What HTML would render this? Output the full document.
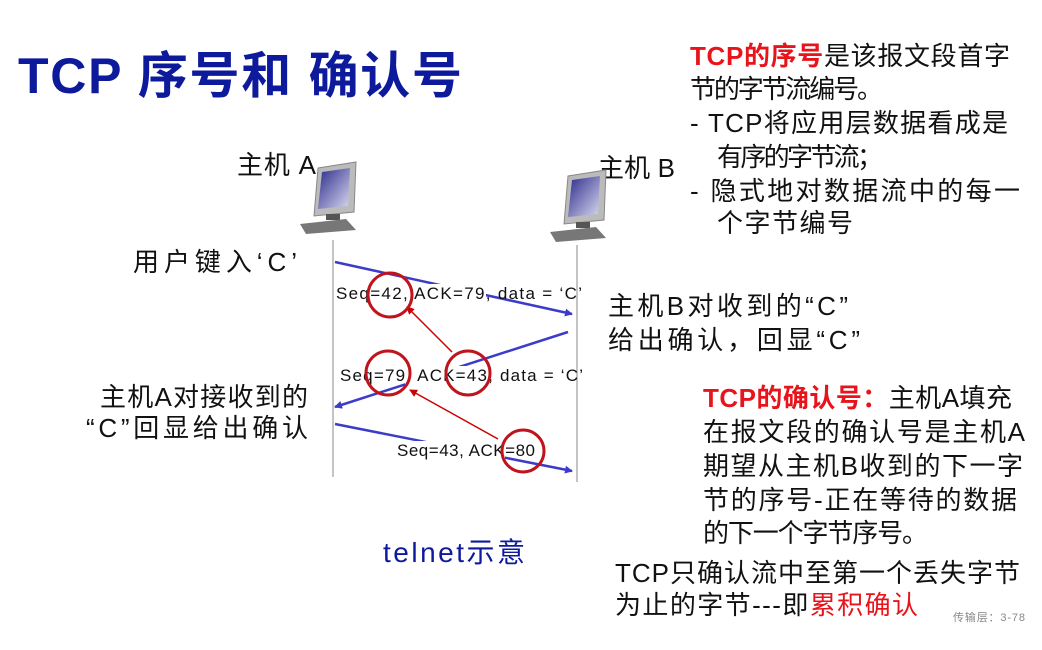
<!DOCTYPE html>
<html><head><meta charset="utf-8"><style>
body{margin:0;width:1042px;height:650px;background:#fff;position:relative;overflow:hidden}
svg text{font-family:"Liberation Sans","Noto Sans CJK SC",sans-serif;fill:#111}
.r{fill:#e8141c;font-weight:bold}
.rr{fill:#e8141c}
</style></head><body>
<svg width="1042" height="650" style="position:absolute;left:0;top:0">
<defs>
<marker id="b" markerWidth="8" markerHeight="8" refX="7" refY="4" orient="auto" markerUnits="userSpaceOnUse"><path d="M0,0 L8,4 L0,8z" fill="#3c3cc8"/></marker>
<marker id="rd" markerWidth="8" markerHeight="8" refX="7" refY="4" orient="auto" markerUnits="userSpaceOnUse"><path d="M0,0 L8,4 L0,8z" fill="#c00"/></marker>
<linearGradient id="scr" x1="0" y1="0" x2="1" y2="1"><stop offset="0" stop-color="#2a2a8a"/><stop offset="1" stop-color="#d8d8f0"/></linearGradient>
</defs>
<text x="18" y="93" font-size="50" font-weight="bold" style="fill:#0d1a9c" textLength="444" lengthAdjust="spacing">TCP 序号和 确认号</text>

<g font-size="26">
<text x="690" y="65" textLength="320" lengthAdjust="spacing"><tspan class="r">TCP的序号</tspan>是该报文段首字</text>
<text x="690" y="98" textLength="193" lengthAdjust="spacing">节的字节流编号。</text>
<text x="690" y="132" textLength="318" lengthAdjust="spacing">-  TCP将应用层数据看成是</text>
<text x="717" y="166" textLength="166" lengthAdjust="spacing">有序的字节流；</text>
<text x="690" y="200" textLength="330" lengthAdjust="spacing">-  隐式地对数据流中的每一</text>
<text x="717" y="232" textLength="136" lengthAdjust="spacing">个字节编号</text>

<text x="237" y="174" textLength="79" lengthAdjust="spacing">主机 A</text>
<text x="598" y="177" textLength="77" lengthAdjust="spacing">主机 B</text>
<text x="133" y="271" textLength="164" lengthAdjust="spacing">用户键入‘C’</text>
<text x="608" y="315" textLength="240" lengthAdjust="spacing">主机B对收到的“C”</text>
<text x="608" y="349" textLength="252" lengthAdjust="spacing">给出确认，回显“C”</text>
<text x="100" y="406" textLength="208" lengthAdjust="spacing">主机A对接收到的</text>
<text x="86" y="437" textLength="222" lengthAdjust="spacing">“C”回显给出确认</text>
<text x="383" y="562" font-size="28" style="fill:#0d1a9c" textLength="142" lengthAdjust="spacing">telnet示意</text>

<text x="703" y="407" textLength="309" lengthAdjust="spacing"><tspan class="r">TCP的确认号：</tspan>主机A填充</text>
<text x="703" y="441" textLength="322" lengthAdjust="spacing">在报文段的确认号是主机A</text>
<text x="703" y="475" textLength="320" lengthAdjust="spacing">期望从主机B收到的下一字</text>
<text x="703" y="509" textLength="314" lengthAdjust="spacing">节的序号-正在等待的数据</text>
<text x="703" y="542" textLength="225" lengthAdjust="spacing">的下一个字节序号。</text>
<text x="615" y="582" textLength="405" lengthAdjust="spacing">TCP只确认流中至第一个丢失字节</text>
<text x="615" y="614" textLength="303" lengthAdjust="spacing">为止的字节---即<tspan class="rr">累积确认</tspan></text>
</g>
<text x="953" y="621" font-size="11" style="fill:#888" textLength="72" lengthAdjust="spacing">传输层：3-78</text>

<g id="pc">
<polygon points="318,168 356,162 354,212 314,216" fill="#bbb" stroke="#888"/>
<polygon points="322,172 350,168 348,206 318,209" fill="url(#scr)"/>
<rect x="326" y="214" width="14" height="6" fill="#555"/>
<polygon points="300,224 346,219 356,230 306,234" fill="#777"/>
</g>
<use href="#pc" transform="translate(250,8)"/>
<line x1="333" y1="240" x2="333" y2="477" stroke="#888" stroke-width="1"/>
<line x1="577" y1="245" x2="577" y2="482" stroke="#888" stroke-width="1"/>
<line x1="335" y1="262" x2="572" y2="314" stroke="#3c3cc8" stroke-width="2.5" marker-end="url(#b)"/>
<line x1="568" y1="332" x2="335" y2="407" stroke="#3c3cc8" stroke-width="2.5" marker-end="url(#b)"/>
<line x1="335" y1="424" x2="572" y2="471" stroke="#3c3cc8" stroke-width="2.5" marker-end="url(#b)"/>
<rect x="400" y="284" width="86" height="20" fill="#fff"/>
<rect x="405" y="366" width="80" height="20" fill="#fff"/>
<rect x="397" y="441" width="108" height="20" fill="#fff"/>
<text x="336" y="299" font-size="17" textLength="246" lengthAdjust="spacing">Seq=42, ACK=79, data =   ‘C’</text>
<text x="340" y="381" font-size="17" textLength="243" lengthAdjust="spacing">Seq=79, ACK=43, data =   ‘C’</text>
<text x="397" y="456" font-size="17" textLength="138" lengthAdjust="spacing">Seq=43, ACK=80</text>
<line x1="452" y1="352" x2="407" y2="307" stroke="#c00" stroke-width="1.5" marker-end="url(#rd)"/>
<line x1="498" y1="439" x2="410" y2="390" stroke="#c00" stroke-width="1.5" marker-end="url(#rd)"/>
<g fill="none" stroke="#c0141c" stroke-width="3">
<circle cx="390" cy="295" r="22"/>
<circle cx="388" cy="373" r="22"/>
<circle cx="468" cy="373" r="22"/>
<circle cx="523" cy="451" r="21"/>
</g>
</svg>
</body></html>
